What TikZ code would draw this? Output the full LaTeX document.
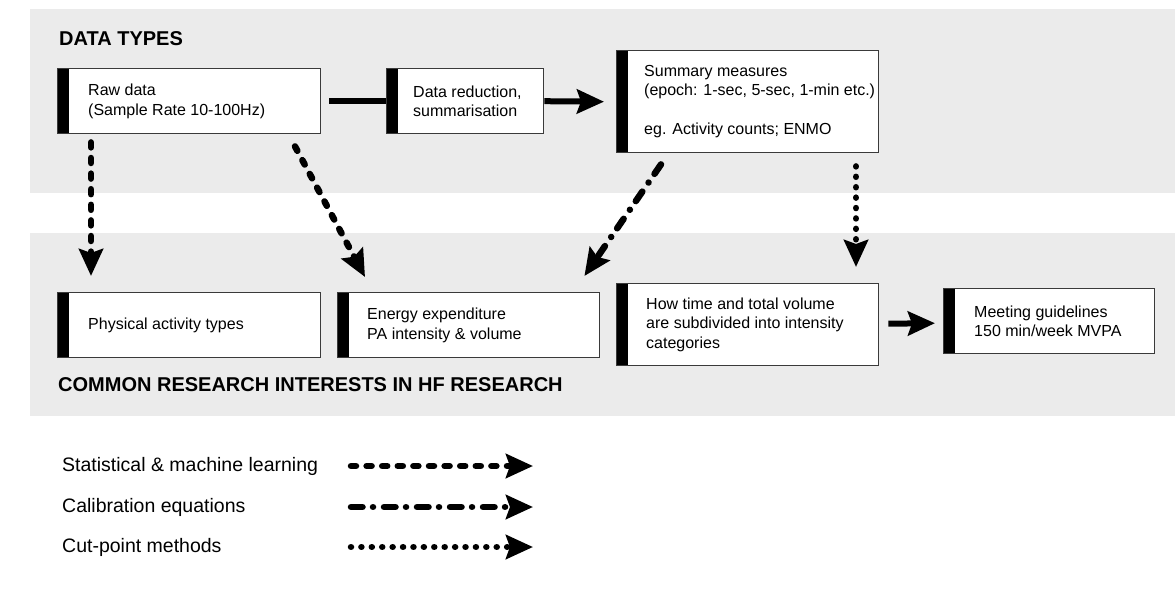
\documentclass[tikz,border=0pt]{standalone}
\usepackage{fontspec}
\setmainfont{Liberation Sans}
\usetikzlibrary{arrows.meta,calc}
\definecolor{bandgray}{HTML}{EBEBEB}
\definecolor{boxline}{HTML}{3A3A3A}
\begin{document}
\begin{tikzpicture}[x=1pt,y=-1pt,
  band/.style={fill=bandgray, draw=none},
  box/.style={draw=boxline, line width=1.4pt, fill=white, inner sep=0pt, anchor=north west,
    path picture={\fill[black] (path picture bounding box.north west) rectangle ([xshift=11pt]path picture bounding box.south west);}},
  txt/.style={align=left, inner sep=0pt, anchor=west, font=\fontsize{16}{19.5}\selectfont},
  heading/.style={inner sep=0pt, anchor=base west, font=\bfseries\fontsize{20}{24}\selectfont},
  legtxt/.style={inner sep=0pt, anchor=west, font=\fontsize{19.5}{23}\selectfont},
  solidarrow/.style={line width=6pt, -{Stealth[length=27pt,width=24pt,inset=4pt]}},
  solidline/.style={line width=6pt},
  mlarrow/.style={line width=6.5pt, line cap=round, dash pattern=on 5pt off 10.6pt, -{Stealth[length=27pt,width=24pt,inset=4pt]}},
  calarrow/.style={line width=6.5pt, line cap=round, dash pattern=on 11.5pt off 10.5pt on 0.01pt off 11pt, -{Stealth[length=27pt,width=24pt,inset=4pt]}},
  cutarrow/.style={line width=6.5pt, line cap=round, dash pattern=on 0.01pt off 10.4pt, -{Stealth[length=27pt,width=24pt,inset=4pt]}}
]
\useasboundingbox (0,0) rectangle (1175,594);
\fill[white] (0,0) rectangle (1175,594);

% bands
\fill[band] (30,9) rectangle (1175,193);
\fill[band] (30,233) rectangle (1175,416);

% headings
\node[heading] (h1) at (59,46) {DATA TYPES};
\node[heading] (h2) at (58,391) {COMMON RESEARCH INTERESTS IN HF RESEARCH};

% top boxes
\node[box, minimum width=263pt, minimum height=65pt] (raw) at (57,68) {};
\node[txt] (rawt) at ($(raw.west)+(31,0)$) {Raw data\\(Sample Rate 10-100Hz)};

\node[box, minimum width=157pt, minimum height=65pt] (red) at (386,68) {};
\node[txt] (redt) at ($(red.west)+(27,0)$) {Data reduction,\\summarisation};

\node[box, minimum width=262pt, minimum height=102pt] (sum) at (616,50) {};
\node[txt] (sumt) at ($(sum.west)+(28,0)$) {Summary measures\\(epoch: 1-sec, 5-sec, 1-min etc.)\\[19.5pt]eg. Activity counts; ENMO};

% bottom boxes
\node[box, minimum width=263pt, minimum height=65pt] (pat) at (57,292) {};
\node[txt] (patt) at ($(pat.west)+(31,0)$) {Physical activity types};

\node[box, minimum width=262pt, minimum height=65pt] (ee) at (337,292) {};
\node[txt] (eet) at ($(ee.west)+(30,0)$) {Energy expenditure\\PA intensity \& volume};

\node[box, minimum width=262pt, minimum height=82pt] (how) at (616,283) {};
\node[txt] (howt) at ($(how.west)+(30,0)$) {How time and total volume\\are subdivided into intensity\\categories};

\node[box, minimum width=211pt, minimum height=65pt] (meet) at (943,288) {};
\node[txt] (meett) at ($(meet.west)+(31,0)$) {Meeting guidelines\\150 min/week MVPA};

% solid connectors
\draw[solidline] ($(raw.east)+(8,0)$) -- (red.west);
\draw[solidarrow] (red.east) -- ($(sum.west)+(-12,0)$);
\draw[solidarrow] ($(how.east)+(9,-1)$) -- ($(meet.west)+(-8,2)$);

% method connectors
\draw[mlarrow] ($(raw.south west)+(34,8)$) -- ($(pat.north west)+(34,-16)$);
\draw[mlarrow] ($(raw.south west)+(238,12)$) -- ($(ee.north west)+(28,-15)$);
\draw[calarrow] ($(sum.south west)+(45,11)$) -- ($(ee.north east)+(-16,-16)$);
\draw[cutarrow] ($(sum.south west)+(240,13)$) -- ($(how.north west)+(240,-16)$);

% legend
\node[legtxt] (l1) at (62,466) {Statistical \& machine learning};
\node[legtxt] (l2) at (62,507) {Calibration equations};
\node[legtxt] (l3) at (62,547) {Cut-point methods};
\coordinate (l1s) at (351,466); \coordinate (l1e) at (533,466);
\coordinate (l2s) at (351,507); \coordinate (l2e) at (533,507);
\coordinate (l3s) at (351,547); \coordinate (l3e) at (533,547);
\draw[mlarrow] (l1s) -- (l1e);
\draw[calarrow] (l2s) -- (l2e);
\draw[cutarrow] (l3s) -- (l3e);
\end{tikzpicture}
\end{document}
